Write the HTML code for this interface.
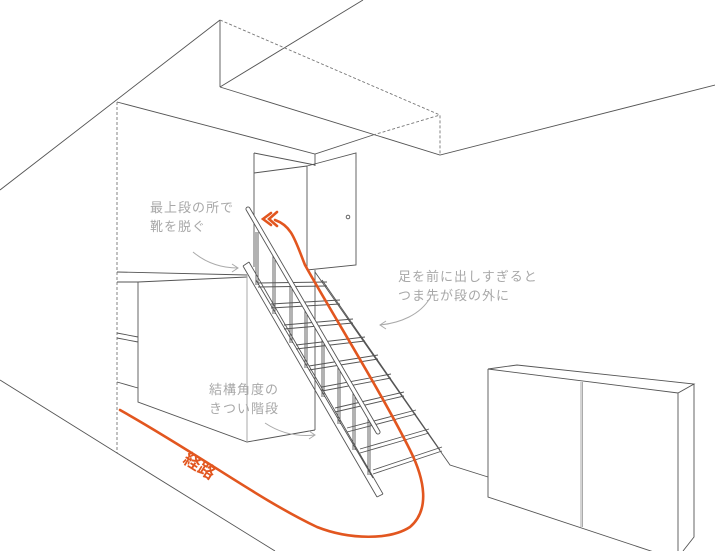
<!DOCTYPE html>
<html><head><meta charset="utf-8"><style>
html,body{margin:0;padding:0;background:#fff;}
svg{display:block}
.l{stroke:#555;stroke-width:0.9;fill:none}
.d{stroke:#777;stroke-width:0.9;fill:none;stroke-dasharray:3 2}
.g{stroke:#aaa;stroke-width:1;fill:none}
.t{font-family:"Liberation Sans","Noto Sans CJK JP",sans-serif;font-size:13px;fill:#a8a8a8;letter-spacing:1px}
.o{stroke:#e2561f;stroke-width:2.6;fill:none;stroke-linecap:round}
</style></head><body>
<svg width="715" height="551" viewBox="0 0 715 551" xmlns="http://www.w3.org/2000/svg">
<path class="l" d="M0 190 L220 20 M220 20 L220 87 M220 87 L363 0 M220 87 L440 155 L715 85"/>
<path class="d" d="M220 20 L440 115 L440 155 M373 135 L440 115"/>
<path class="l" d="M117 102 L315 154 L373 135"/>
<path class="d" d="M117 102 L117 453"/>
<path class="l" d="M0 380 L117 453 L275 551"/>
<path class="l" d="M254 153 L315 165 M254 153 L254 267 M254 173 L307 166 M307 166 L356 153 L356 265 L307 270 Z M315 154 L315 166"/>
<circle cx="348" cy="217" r="1.8" class="l"/>
<path class="l" d="M117 272 L247 275 M117 282 L138 282 L247 277 M138 282 L138 402 L247 442 L315 430 M117 333 L138 337 M117 338 L138 342 M117 382 L138 388 M315 270 L315 430"/>
<path class="g" d="M247 275 L247 442"/>
<g class="l">
<path d="M258 283 L327 282 M258 287 L327 286"/>
<path d="M271 304 L340 300 M271 308 L340 304"/>
<path d="M284 325 L353 319 M284 329 L353 323"/>
<path d="M296 345 L365 337 M296 349 L365 341"/>
<path d="M309 366 L378 355 M309 370 L378 359"/>
<path d="M322 387 L391 374 M322 391 L391 378"/>
<path d="M335 408 L404 392 M335 412 L404 396"/>
<path d="M347 428 L416 410 M347 432 L416 414"/>
<path d="M360 449 L429 429 M360 453 L429 433"/>
<path d="M373 470 L442 447 M373 474 L442 451"/>
<path d="M315 272 L450 465 L488 477 M322 280 L440 450"/>
</g>
<path class="l" d="M243 266 L377 497 M249 262 L383 494 M256 280 L373 478 M243 266 L249 262 M377 497 L383 494"/>
<g class="l">
<path d="M256 232 L256 285 M258 232 L258 285"/>
<path d="M273 252 L273 314 M275 252 L275 314"/>
<path d="M290 281 L290 343 M292 281 L292 343"/>
<path d="M305 307 L305 368 M307 307 L307 368"/>
<path d="M322 336 L322 397 M324 336 L324 397"/>
<path d="M338 363 L338 424 M340 363 L340 424"/>
<path d="M353 389 L353 450 M355 389 L355 450"/>
<path d="M368 415 L368 475 M370 415 L370 475"/>
</g>
<path d="M248 209 L378 432" stroke="#555" stroke-width="5" stroke-linecap="round" fill="none"/>
<path d="M248 209 L378 432" stroke="#fff" stroke-width="3.2" stroke-linecap="round" fill="none"/>
<!-- cabinet -->
<path class="l" d="M488 369 L517 365 L694 384 L678 393 L488 369 Z M488 369 L488 497 L678 560 M678 393 L678 551 M694 384 L694 537 L683 551"/>
<path class="g" d="M581 382 L581 527 M582.5 382 L582.5 527"/>
<path class="o" d="M120 410 C200 455 260 500 317 527 C350 540 390 540 410 527 C430 510 425 480 410 450 C380 390 330 310 305 265 C295 240 292 226 275 220"/>
<path class="o" d="M271 213 L263 219 L271 225 M277 212 L269 219 L277 226" stroke-width="2"/>
<text x="0" y="0" transform="translate(182,462) rotate(32)" font-family="'Liberation Sans','Noto Sans CJK JP',sans-serif" font-size="17" font-weight="bold" fill="#e2561f">経路</text>
<text class="t" x="150" y="212">最上段の所で</text>
<text class="t" x="150" y="231">靴を脱ぐ</text>
<path class="g" d="M193 252 C205 262 220 268 238 268"/>
<path class="g" d="M232 264 L238 268 L232 272"/>
<text class="t" x="398" y="281">足を前に出しすぎると</text>
<text class="t" x="398" y="300">つま先が段の外に</text>
<path class="g" d="M430 298 C420 315 400 323 380 325"/>
<path class="g" d="M386 321 L380 325 L386 329"/>
<text class="t" x="209" y="394">結構角度の</text>
<text class="t" x="209" y="413">きつい階段</text>
<path class="g" d="M265 423 C280 433 297 437 315 435"/>
<path class="g" d="M309 431 L315 435 L309 439"/>
</svg>
</body></html>
